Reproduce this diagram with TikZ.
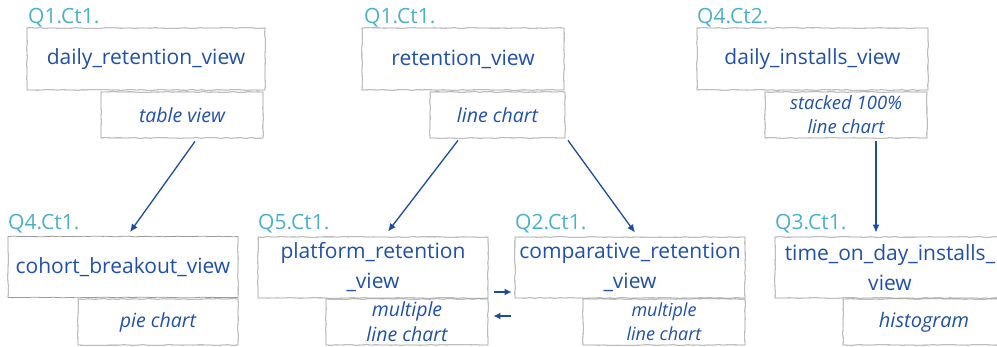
\documentclass[tikz,border=0pt]{standalone}
\usepackage{fontspec}
\setmainfont{Open Sans}
\usetikzlibrary{arrows.meta,calc,decorations.pathmorphing}

\definecolor{txtblue}{HTML}{1F50A8}
\definecolor{arrblue}{HTML}{1C4C9E}
\definecolor{tagteal}{HTML}{4BB0C9}
\definecolor{edgegray}{HTML}{9A9A9A}

\tikzset{
  rough/.style={decorate,decoration={random steps,segment length=5pt,amplitude=0.35pt}},
  viewbox/.style={draw=edgegray, line width=0.8pt, rough, inner sep=0pt,
    minimum width=230pt, minimum height=61pt, text=txtblue, align=center,
    font=\fontsize{21}{30}\selectfont},
  chartbox/.style={draw=edgegray, line width=0.8pt, rough, inner sep=0pt,
    minimum width=162pt, minimum height=46pt, text=txtblue, align=center,
    font=\itshape\fontsize{19.5}{26}\selectfont},
  tag/.style={text=tagteal, inner sep=0pt, anchor=base west,
    font=\fontsize{21}{24}\selectfont},
  link/.style={draw=arrblue, line width=1.3pt, -{Latex[length=8pt,width=7pt]}},
}

\begin{document}
\pgfmathsetseed{7}
\begin{tikzpicture}[x=1pt,y=-1pt]
\useasboundingbox (0,0) rectangle (997,347);

% top row
\node[viewbox, minimum width=238pt, minimum height=62pt] (dr) at (146,59) {daily\_retention\_view};
\node[chartbox] (drs) at (182,115) {table view};
\node[tag] (tdr) at (28,24) {Q1.Ct1.};

\node[viewbox, minimum width=202pt, minimum height=62pt] (rv) at (463,59) {retention\_view};
\node[chartbox, minimum width=135pt] (rvs) at (497.5,115) {line chart};
\node[tag] (trv) at (364,24) {Q1.Ct1.};

\node[viewbox, minimum width=231pt, minimum height=62pt] (di) at (812.5,59) {daily\_installs\_view};
\node[chartbox, font=\itshape\fontsize{18.5}{24}\selectfont] (dis) at (846,115) {stacked 100\%\\line chart};
\node[tag] (tdi) at (697,24) {Q4.Ct2.};

% bottom row
\node[viewbox] (cb) at (123,267) {cohort\_breakout\_view};
\node[chartbox, minimum width=160pt] (cbs) at (158,322) {pie chart};
\node[tag] (tcb) at (8,230) {Q4.Ct1.};

\node[viewbox] (pr) at (373,267.5) {platform\_retention\\\_view};
\node[chartbox, font=\itshape\fontsize{19.5}{25}\selectfont] (prs) at (407,322) {multiple\\line chart};
\node[tag] (tpr) at (258,230) {Q5.Ct1.};

\node[viewbox] (cr) at (630,267.5) {comparative\_retention\\\_view};
\node[chartbox, font=\itshape\fontsize{18}{24}\selectfont] (crs) at (664,322) {multiple\\line chart};
\node[tag] (tcr) at (515,230) {Q2.Ct1.};

\node[viewbox] (td) at (890,267.5) {time\_on\_day\_installs\_\\view};
\node[chartbox, font=\itshape\fontsize{20}{26}\selectfont] (tds) at (924,322) {histogram};
\node[tag] (ttd) at (775,230) {Q3.Ct1.};

% connectors
\draw[link] ($(drs.south)+(13,3)$) -- ($(cb.north)+(7,-4)$);
\draw[link] ($(rvs.south)+(-39.5,2)$) -- ($(pr.north)+(15,-5)$);
\draw[link] ($(rvs.south)+(70.5,2)$) -- ($(cr.north)+(5,-4)$);
\draw[link] ($(dis.south)+(30,3)$) -- ($(td.north)+(-14,-4)$);
\draw[link, -{Latex[length=7pt,width=7pt]}] ($(pr.east)+(6,24.5)$) -- ($(cr.west)+(-3,24.5)$);
\draw[link, -{Latex[length=7pt,width=7pt]}] ($(cr.west)+(-4,48.5)$) -- ($(prs.east)+(5,-6)$);
\end{tikzpicture}
\end{document}
